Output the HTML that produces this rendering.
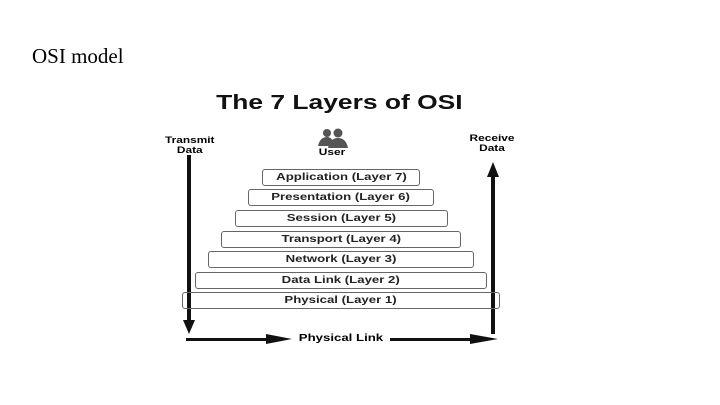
<!DOCTYPE html>
<html><head><style>
body{margin:0;width:720px;height:405px;background:#fff;position:relative;overflow:hidden;font-family:"Liberation Sans",sans-serif}
.t{position:absolute;white-space:nowrap}
.w{display:inline-block;transform:scaleX(1.32)}
.b{position:absolute;border:1px solid #666;border-radius:3px;font-weight:bold;font-size:10px;text-align:center;color:#222;box-sizing:border-box}
</style></head><body>
<div class="t" style="left:32px;top:44px;font-family:'Liberation Serif',serif;font-size:21px">OSI model</div>
<div class="t" style="left:216px;top:92px;width:246px;text-align:center;font-weight:bold;font-size:20px;color:#111"><span class="w">The 7 Layers of OSI</span></div>
<div class="t" style="left:158px;top:135px;width:64px;font-weight:bold;font-size:9px;text-align:center;line-height:10px"><span class="w">Transmit<br>Data</span></div>
<div class="t" style="left:460px;top:133px;width:64px;font-weight:bold;font-size:9px;text-align:center;line-height:10px"><span class="w">Receive<br>Data</span></div>
<svg width="720" height="405" style="position:absolute;left:0;top:0">
<g fill="#555"><circle cx="327" cy="133" r="4"/><circle cx="338" cy="133" r="4.5"/>
<path d="M318 146 Q320 137 327 137 Q333 137 334 146Z"/><path d="M328 148 Q330 138 338 138 Q346 138 348 148Z"/></g>
<rect x="187" y="155" width="4" height="168" fill="#111"/>
<polygon points="183,320 195,320 189,334" fill="#111"/>
<rect x="491" y="175" width="4" height="159" fill="#111"/>
<polygon points="487,177 499,177 493,162" fill="#111"/>
<rect x="186" y="338" width="95" height="3" fill="#111"/>
<polygon points="266,334 266,344 292,339" fill="#111"/>
<rect x="390" y="338" width="90" height="3" fill="#111"/>
<polygon points="470,334 470,344 498,339" fill="#111"/>
</svg>
<div class="t" style="left:312px;top:147px;width:40px;text-align:center;font-weight:bold;font-size:9px"><span class="w">User</span></div>
<div class="b" style="left:262px;top:169px;width:158px;height:17px;line-height:16px"><span class="w">Application (Layer 7)</span></div>
<div class="b" style="left:248px;top:189px;width:186px;height:17px;line-height:16px"><span class="w">Presentation (Layer 6)</span></div>
<div class="b" style="left:235px;top:210px;width:213px;height:17px;line-height:16px"><span class="w">Session (Layer 5)</span></div>
<div class="b" style="left:221px;top:231px;width:240px;height:17px;line-height:16px"><span class="w">Transport (Layer 4)</span></div>
<div class="b" style="left:208px;top:251px;width:266px;height:17px;line-height:16px"><span class="w">Network (Layer 3)</span></div>
<div class="b" style="left:195px;top:272px;width:292px;height:17px;line-height:16px"><span class="w">Data Link (Layer 2)</span></div>
<div class="b" style="left:182px;top:292px;width:318px;height:17px;line-height:16px"><span class="w">Physical (Layer 1)</span></div>
<div class="t" style="left:291px;top:333px;width:100px;text-align:center;font-weight:bold;font-size:10px"><span class="w">Physical Link</span></div>
</body></html>
